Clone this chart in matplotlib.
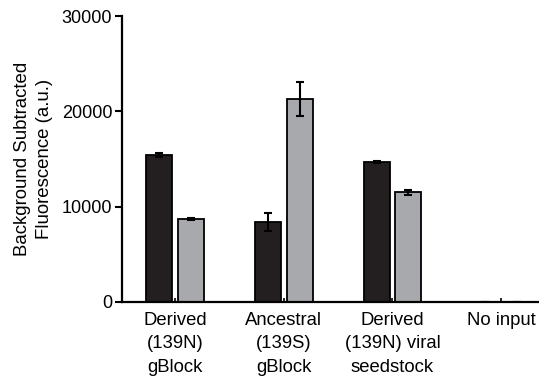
import numpy as np
import matplotlib.pyplot as plt

plt.rcParams['font.family'] = ['Liberation Sans', 'DejaVu Sans']

# Fluorescence per input, two bars per group
groups = ["Derived\n(139N)\ngBlock", "Ancestral\n(139S)\ngBlock",
          "Derived\n(139N) viral\nseedstock", "No input"]
dark_vals = [15400, 8400, 14700, 30]
dark_err = [180, 950, 120, 10]
grey_vals = [8700, 21300, 11500, 30]
grey_err = [120, 1800, 280, 10]

x = np.arange(len(groups))
w = 0.24
off = 0.145

fig = plt.figure(figsize=(5.39, 3.85), dpi=100)
ax = fig.add_axes([0.2263, 0.2156, 0.80, 0.7428])

ax.bar(x - off, dark_vals, w, color="#231f20", edgecolor="black", linewidth=1.3,
       yerr=dark_err, error_kw=dict(ecolor="black", elinewidth=1.5, capsize=3, capthick=1.5))
ax.bar(x + off, grey_vals, w, color="#a7a9ac", edgecolor="black", linewidth=1.3,
       yerr=grey_err, error_kw=dict(ecolor="black", elinewidth=1.5, capsize=3, capthick=1.5))

ax.set_xlim(-0.49, 3.48)
ax.set_ylim(0, 30000)
ax.set_yticks([0, 10000, 20000, 30000])
ax.set_xticks(x)
ax.set_xticklabels(groups, fontsize=13.3, linespacing=1.5)
ax.tick_params(axis="x", direction="in", length=3, width=1.2, pad=7)
ax.tick_params(axis="y", direction="out", length=5, width=1.5, labelsize=13, pad=2)

for s in ["top", "right"]:
    ax.spines[s].set_visible(False)
for s in ["left", "bottom"]:
    ax.spines[s].set_linewidth(1.6)

ax.set_ylabel("Background Subtracted\nFluorescence (a.u.)", fontsize=13.4,
              linespacing=1.45, labelpad=6)

fig.savefig("out.png", dpi=100)
